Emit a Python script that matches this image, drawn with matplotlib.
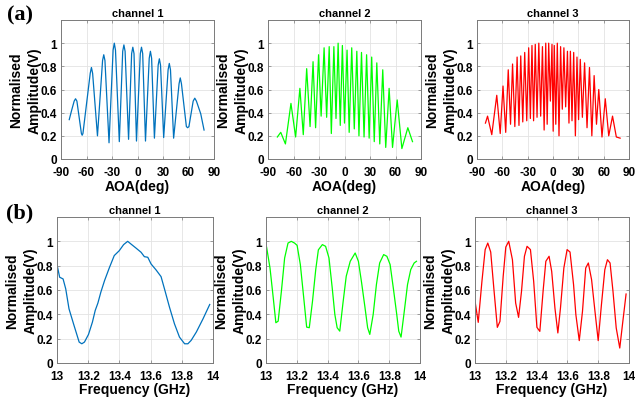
import numpy as np
import matplotlib
matplotlib.use('Agg')
import matplotlib.pyplot as plt

plt.rcParams['font.family'] = ['Liberation Sans', 'DejaVu Sans']
plt.rcParams['font.weight'] = 'bold'
plt.rcParams['axes.unicode_minus'] = False

# ---- data ----
aoa_ch1 = [-80.3, -77.5, -74.5, -72.9, -71.3, -66, -65.1, -64.2, -55.6, -54.2, -52.8, -47.1,
           -41.1, -39.7, -38.3, -33.5, -28.7, -27.3, -25.9, -21.4, -17.4, -16.0, -14.6, -10.5,
           -6.9, -5.5, -4.1, -1.2, 3.3, 4.7, 6.1, 9.4, 13.8, 15.2, 16.6, 19.9, 24.3, 25.7, 27.1,
           30.8, 36.0, 37.4, 38.8, 42.5, 48.9, 50.3, 51.7, 57.5, 59, 60.5, 65.5, 67.4, 69.3,
           74.4, 78.3]
amp_aoa_ch1 = [0.34, 0.42, 0.50, 0.52, 0.50, 0.22, 0.205, 0.22, 0.74, 0.79, 0.74, 0.20,
               0.85, 0.90, 0.85, 0.14, 0.94, 1.0, 0.94, 0.15, 0.93, 0.985, 0.93, 0.17,
               0.91, 0.965, 0.91, 0.155, 0.91, 0.965, 0.91, 0.155, 0.87, 0.93, 0.87, 0.18, 0.81, 0.865, 0.81,
               0.185, 0.77, 0.825, 0.77, 0.18, 0.65, 0.70, 0.65, 0.28, 0.27, 0.28, 0.50, 0.525, 0.50,
               0.39, 0.25]

aoa_ch2 = [-79, -75, -69.5, -63, -57.5, -52.5, -48.5, -44.5, -40.5, -37, -34, -30.5, -27.5, -24,
           -21, -18, -15.5, -12.5, -10, -7.5, -5, -2.5, 0, 3, 5.5, 8.5, 11.5, 14.5, 17, 20, 23,
           26, 29, 32, 35, 38, 41.5, 45, 48.5, 52.5, 56.5, 62, 67.5, 74.5, 80]
amp_aoa_ch2 = [0.19, 0.23, 0.13, 0.48, 0.19, 0.61, 0.21, 0.78, 0.28, 0.84, 0.27, 0.90, 0.37, 0.96,
               0.36, 0.97, 0.22, 0.97, 0.35, 1.0, 0.29, 0.98, 0.31, 0.94, 0.23, 0.96, 0.26, 0.93, 0.20, 0.92, 0.19,
               0.90, 0.18, 0.88, 0.15, 0.83, 0.13, 0.77, 0.10, 0.61, 0.10, 0.51, 0.09, 0.27, 0.15]

aoa_ch3 = [-80, -77.5, -72.5, -66.6, -62.5, -59.2, -56, -53, -50.3, -47.9, -45.2, -42.5, -40.3,
           -38.2, -35.8, -33.5, -31.1, -28.8, -26.8, -24.9, -23, -21, -18.9, -16.8, -14.6, -12.5,
           -10.5, -8.6, -6.9, -5.1, -3.1, -1.2, 0.2, 1.5, 3.3, 5.1, 7.1, 9.0, 11, 12.9, 15, 17.1,
           18.9, 20.6, 22.5, 24.5, 26.5, 28.4, 30.3, 32.3, 34.8, 37.4, 40.3, 43.2, 46, 48.7, 51.5,
           54.2, 58, 61.9, 66, 70.5, 75, 79.5]
amp_aoa_ch3 = [0.31, 0.37, 0.21, 0.55, 0.22, 0.63, 0.23, 0.77, 0.30, 0.82, 0.28, 0.88, 0.29,
               0.89, 0.32, 0.92, 0.33, 0.96, 0.35, 0.98, 0.33, 0.99, 0.36, 1.0, 0.37, 0.97,
               0.25, 1.0, 0.30, 1.0, 0.50, 0.99, 0.24, 0.98, 0.30, 1.0, 0.20, 0.97, 0.43, 0.96, 0.45, 0.93,
               0.31, 0.93, 0.33, 0.92, 0.20, 0.88, 0.34, 0.86, 0.36, 0.83, 0.27, 0.79, 0.20, 0.72, 0.30,
               0.60, 0.19, 0.52, 0.20, 0.37, 0.19, 0.18]

freq_ch1 = [13.0, 13.017, 13.039, 13.056, 13.077, 13.109, 13.142, 13.159, 13.176, 13.202, 13.227,
            13.245, 13.262, 13.281, 13.305, 13.335, 13.367, 13.399, 13.427, 13.453, 13.474, 13.506,
            13.539, 13.56, 13.582, 13.603, 13.635, 13.667, 13.689, 13.721, 13.753, 13.785, 13.818,
            13.839, 13.86, 13.893, 13.936, 13.979]
amp_f_ch1 = [0.809, 0.705, 0.691, 0.609, 0.445, 0.309, 0.172, 0.158, 0.172, 0.235, 0.336,
             0.432, 0.492, 0.582, 0.678, 0.781, 0.883, 0.923, 0.973, 1.0, 0.978, 0.945,
             0.91, 0.874, 0.869, 0.814, 0.765, 0.71, 0.609, 0.459, 0.322, 0.213, 0.158,
             0.158, 0.186, 0.254, 0.363, 0.481]

freq_ch2 = [13.004, 13.026, 13.047, 13.064, 13.079, 13.1, 13.121, 13.143, 13.164, 13.185, 13.202,
            13.223, 13.245, 13.264, 13.281, 13.302, 13.323, 13.34, 13.366, 13.387, 13.409, 13.43,
            13.447, 13.462, 13.479, 13.5, 13.521, 13.547, 13.579, 13.6, 13.621, 13.643, 13.66,
            13.674, 13.696, 13.717, 13.738, 13.764, 13.785, 13.806, 13.828, 13.849, 13.862,
            13.877, 13.898, 13.919, 13.94, 13.962, 13.977]
amp_f_ch2 = [0.951, 0.781, 0.536, 0.331, 0.344, 0.59, 0.863, 0.986, 1.0, 0.986, 0.967,
             0.809, 0.536, 0.295, 0.29, 0.508, 0.768, 0.93, 0.973, 0.959, 0.863, 0.617,
             0.399, 0.29, 0.262, 0.495, 0.713, 0.836, 0.904, 0.836, 0.658, 0.454, 0.29,
             0.235, 0.399, 0.645, 0.822, 0.891, 0.877, 0.809, 0.604, 0.399, 0.262,
             0.213, 0.426, 0.645, 0.768, 0.822, 0.836]

freq_ch3 = [13.002, 13.021, 13.045, 13.066, 13.083, 13.102, 13.123, 13.145, 13.162, 13.183, 13.2,
            13.219, 13.243, 13.264, 13.283, 13.302, 13.321, 13.338, 13.36, 13.381, 13.402, 13.421,
            13.443, 13.46, 13.481, 13.498, 13.519, 13.538, 13.555, 13.577, 13.598, 13.617, 13.64,
            13.655, 13.677, 13.698, 13.719, 13.736, 13.757, 13.779, 13.8, 13.821, 13.843, 13.86,
            13.877, 13.896, 13.917, 13.94, 13.96, 13.981]
amp_f_ch3 = [0.493, 0.334, 0.671, 0.932, 0.986, 0.912, 0.603, 0.293, 0.342, 0.712, 0.953,
             1.0, 0.849, 0.493, 0.375, 0.589, 0.877, 0.959, 0.932, 0.671, 0.293, 0.26,
             0.603, 0.836, 0.877, 0.753, 0.452, 0.247, 0.452, 0.781, 0.932, 0.912, 0.644,
             0.397, 0.184, 0.425, 0.781, 0.822, 0.685, 0.425, 0.184, 0.479, 0.767, 0.849,
             0.822, 0.589, 0.288, 0.123, 0.342, 0.567]

titles = ['channel 1', 'channel 2', 'channel 3']
colors = ['#0072BD', '#00FF00', '#FF0000']
aoa_ticks = [-90, -60, -30, 0, 30, 60, 90]
freq_ticks = [13, 13.2, 13.4, 13.6, 13.8, 14]
freq_ticklabels = ['13', '13.2', '13.4', '13.6', '13.8', '14']
amp_ticks = [0, 0.2, 0.4, 0.6, 0.8, 1]
amp_ticklabels = ['0', '0.2', '0.4', '0.6', '0.8', '1']

W, H = 637, 402
fig = plt.figure(figsize=(W / 100, H / 100), dpi=100)

# axes boxes in pixels: left, top, right, bottom
top_boxes = [(61, 21, 214, 160), (268, 21, 421, 160), (477, 21, 629, 160)]
bot_boxes = [(57, 218, 213, 364), (266, 218, 420, 364), (475, 218, 629, 364)]


def make_ax(box):
    l, t, r, b = box
    w, h = r - l, b - t
    ax = fig.add_axes([l / W, 1 - b / H, w / W, h / H])
    ax.set_ylim(0, 1.2)
    ax.set_yticks(amp_ticks)
    ax.set_yticklabels(amp_ticklabels)
    ax.grid(True, color='#e3e3e3', linewidth=0.6)
    ax.set_axisbelow(True)
    for s in ax.spines.values():
        s.set_color('#7a7a7a')
        s.set_linewidth(0.7)
    ax.tick_params(direction='in', length=2, width=0.5, color='#7a7a7a',
                   labelsize=8.5, top=True, right=True)
    ax.tick_params(axis='y', pad=3)
    ax.tick_params(axis='x', pad=5)
    for lab in ax.get_xticklabels() + ax.get_yticklabels():
        lab.set_fontweight('bold')
    ax.set_ylabel('Normalised\nAmplitude(V)', fontsize=10, fontweight='bold',
                  linespacing=1.45)
    ax.yaxis.set_label_coords(-19 / w, 0.5)
    return ax, w, h


top_data = [(aoa_ch1, amp_aoa_ch1), (aoa_ch2, amp_aoa_ch2), (aoa_ch3, amp_aoa_ch3)]
for i, (x, y) in enumerate(top_data):
    ax, w, h = make_ax(top_boxes[i])
    ax.plot(x, y, color=colors[i], linewidth=0.9)
    ax.set_xlim(-90, 90)
    ax.set_xticks(aoa_ticks)
    ax.set_xticklabels([str(v) for v in aoa_ticks])
    for lab in ax.get_xticklabels():
        lab.set_fontweight('bold')
    ax.set_xlabel('AOA(deg)', fontsize=10, fontweight='bold')
    ax.xaxis.set_label_coords(0.5, -20 / h)
    ax.set_title(titles[i], fontsize=8, fontweight='bold', pad=3)

bot_data = [(freq_ch1, amp_f_ch1), (freq_ch2, amp_f_ch2), (freq_ch3, amp_f_ch3)]
for i, (x, y) in enumerate(bot_data):
    ax, w, h = make_ax(bot_boxes[i])
    ax.plot(x, y, color=colors[i], linewidth=0.9)
    ax.set_xlim(13, 14)
    ax.set_xticks(freq_ticks)
    ax.set_xticklabels(freq_ticklabels)
    for lab in ax.get_xticklabels():
        lab.set_fontweight('bold')
    ax.set_xlabel('Frequency (GHz)', fontsize=10, fontweight='bold')
    ax.xaxis.set_label_coords(0.5, -19 / h)
    ax.set_title(titles[i], fontsize=8, fontweight='bold', pad=3)

fig.text(20 / W, 1 - 15 / H, '(a)', family='Liberation Serif', fontweight='bold',
         fontsize=16, ha='center', va='center')
fig.text(20 / W, 1 - 213 / H, '(b)', family='Liberation Serif', fontweight='bold',
         fontsize=16, ha='center', va='center')

fig.savefig('out.png', dpi=100)
